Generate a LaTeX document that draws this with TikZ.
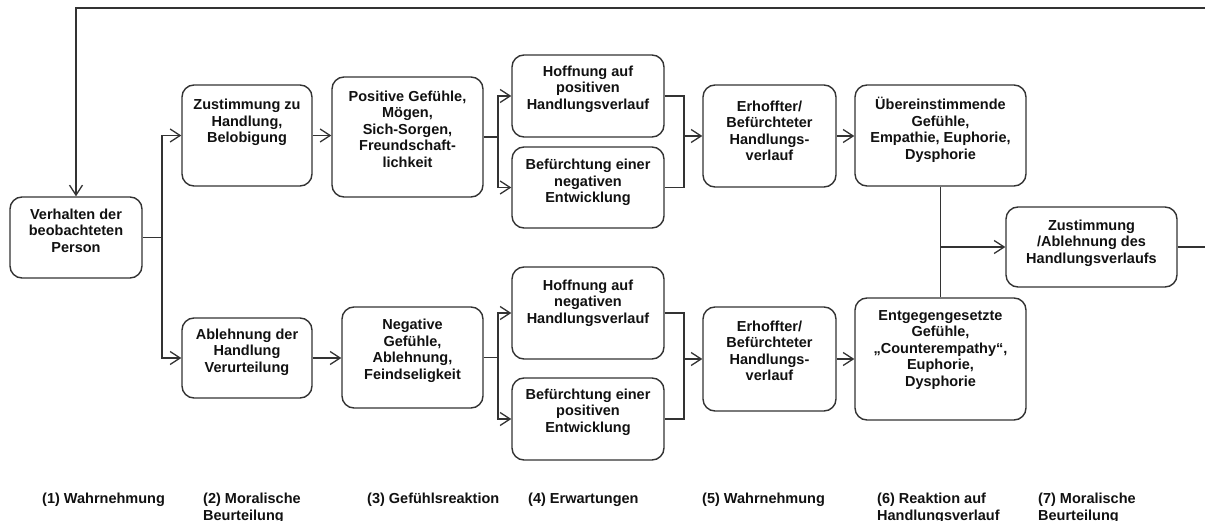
\documentclass[tikz,border=0pt]{standalone}
\usepackage{fontspec}
\setmainfont{Liberation Sans}
\usetikzlibrary{arrows.meta}
\definecolor{lc}{HTML}{333333}
\definecolor{tc}{HTML}{111111}
\tikzset{
  boxn/.style={draw=lc, line width=1.4pt, rounded corners=12pt, inner sep=0pt},
  txt/.style={align=center, inner sep=0pt, text=tc, font=\bfseries\fontsize{14.5}{16.5}\selectfont},
  lab/.style={align=left, inner sep=0pt, anchor=north west, text=tc, font=\bfseries\fontsize{14.5}{16.5}\selectfont},
  conn/.style={draw=lc, line width=1.4pt},
  arr/.style={conn, -{Straight Barb[length=10pt,width=13pt,line width=1.3pt]}},
}
\newcommand{\bx}[7]{% name, x1, y1, x2, y2, shift, text
  \node[boxn, minimum width={(#4-#2)*1pt}, minimum height={(#5-#3)*1pt}] (#1) at ({(#2+#4)/2},{(#3+#5)/2}) {};
  \node[txt] (#1t) at ([yshift=#6pt]#1.center) {#7};
}
\begin{document}
\begin{tikzpicture}[x=1pt,y=-1pt]
\useasboundingbox (0,0) rectangle (1205,521);
% boxes
\bx{v}{10}{197}{142}{278}{7}{Verhalten der\\beobachteten\\Person}
\bx{z}{182}{85}{312}{186}{13}{Zustimmung zu\\Handlung,\\Belobigung}
\bx{a}{182}{318}{312}{398}{6}{Ablehnung der\\Handlung\\Verurteilung}
\bx{p}{332}{77}{483}{197}{8}{Positive Gefühle,\\Mögen,\\Sich-Sorgen,\\Freundschaft-\\lichkeit}
\bx{n}{342}{307}{483}{408}{6.5}{Negative\\Gefühle,\\Ablehnung,\\Feindseligkeit}
\bx{h1}{512}{55}{664}{137}{7}{Hoffnung auf\\positiven\\Handlungsverlauf}
\bx{b1}{512}{147}{664}{228}{5}{Befürchtung einer\\negativen\\Entwicklung}
\bx{h2}{512}{267}{664}{359}{10}{Hoffnung auf\\negativen\\Handlungsverlauf}
\bx{b2}{512}{378}{664}{460}{7}{Befürchtung einer\\positiven\\Entwicklung}
\bx{e1}{703}{85}{836}{187}{5}{Erhoffter/\\Befürchteter\\Handlungs-\\verlauf}
\bx{e2}{703}{307}{836}{411}{8}{Erhoffter/\\Befürchteter\\Handlungs-\\verlauf}
\bx{u}{855}{85}{1026}{186}{5.5}{Übereinstimmende\\Gefühle,\\Empathie, Euphorie,\\Dysphorie}
\bx{g}{855}{298}{1026}{420}{9}{Entgegengesetzte\\Gefühle,\\„Counterempathy“,\\Euphorie,\\Dysphorie}
\bx{za}{1006}{207}{1177}{287}{4}{Zustimmung\\/Ablehnung des\\Handlungsverlaufs}
% bottom labels
\node[lab] (l1) at (42,493) {(1) Wahrnehmung};
\node[lab] (l2) at (203,493) {(2) Moralische\\Beurteilung};
\node[lab] (l3) at (367,493) {(3) Gefühlsreaktion};
\node[lab] (l4) at (528,493) {(4) Erwartungen};
\node[lab] (l5) at (702,493) {(5) Wahrnehmung};
\node[lab] (l6) at (877,493) {(6) Reaktion auf\\Handlungsverlauf};
\node[lab] (l7) at (1038,493) {(7) Moralische\\Beurteilung};
% feedback loop
\coordinate (topR) at (1206,8);
\coordinate (edgeR) at (1206,247);
\draw[arr] (topR) -| (v.north);
\draw[conn] (za.east) -- (za.east -| edgeR);
% split 1
\coordinate (s1) at (162,237.5);
\draw[conn] (v.east) -- (s1);
\draw[arr] (s1) |- (z.west);
\draw[arr] (s1) |- (a.west);
% to feelings
\draw[arr] (z.east) -- (z.east -| p.west);
\draw[arr] (a.east) -- (a.east -| n.west);
% split 2 (top)
\coordinate (s2) at (498,137);
\draw[conn] (p.east) -- (s2);
\draw[arr] (s2) |- (h1.west);
\draw[arr] (s2) |- (b1.west);
% split 3 (bottom)
\coordinate (s3) at (498,357.5);
\draw[conn] (n.east) -- (s3);
\draw[arr] (s3) |- (h2.west);
\draw[arr] (s3) |- (b2.west);
% merge top
\coordinate (m1) at (684,136);
\draw[conn] (h1.east) -| (m1) |- (b1.east);
\draw[arr] (m1) -- (m1 -| e1.west);
% merge bottom
\coordinate (m2) at (684,359);
\draw[conn] (h2.east) -| (m2) |- (b2.east);
\draw[arr] (m2) -- (m2 -| e2.west);
% to reactions
\draw[arr] (e1.east) -- (e1.east -| u.west);
\draw[arr] (e2.east) -- (e2.east -| g.west);
% merge reactions
\draw[conn] (u.south) -- (g.north);
\draw[arr] (u.south |- za.west) -- (za.west);
\end{tikzpicture}
\end{document}
